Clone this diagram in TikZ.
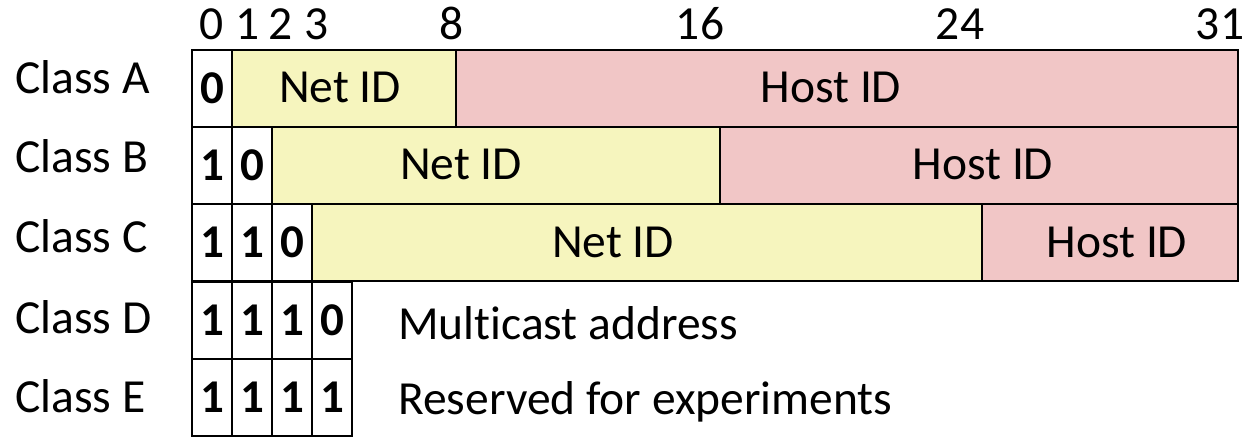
\documentclass[tikz,border=0pt]{standalone}
\usepackage{fontspec}
\setmainfont{Carlito}[Ligatures={NoCommon}]
\definecolor{netc}{RGB}{246,245,190}
\definecolor{hostc}{RGB}{241,198,198}
\begin{document}
\begin{tikzpicture}[x=1pt,y=-1pt,
  every node/.style={font=\fontsize{47.5}{55}\selectfont},
  cell/.style={draw=black, line width=2pt, minimum height=77pt, inner sep=0pt, outer sep=0pt, anchor=north west},
  bitcell/.style={cell, fill=white, minimum width=40pt, font=\fontsize{47}{55}\selectfont\bfseries},
  netbox/.style={cell, fill=netc},
  hostbox/.style={cell, fill=hostc},
  lbl/.style={anchor=base west, inner sep=0pt},
  txt/.style={anchor=base, inner sep=0pt},
  num/.style={anchor=base, inner sep=0pt}]
\useasboundingbox (0,0) rectangle (1247,438);
% bit numbers
\node[num] (n0) at (212,40) {0};
\node[num] (n1) at (248,40) {1};
\node[num] (n2) at (281,40) {2};
\node[num] (n3) at (317,40) {3};
\node[num] (n8) at (452,40) {8};
\node[num] (n16) at (700,40) {16};
\node[num] (n24) at (960,40) {24};
\node[num] (n31) at (1220,40) {31};
% class labels
\node[lbl] (la) at (15,94) {Class A};
\node[lbl] (lb) at (15,173) {Class B};
\node[lbl] (lc) at (15,253) {Class C};
\node[lbl] (ld) at (15,333) {Class D};
\node[lbl] (le) at (15,412) {Class E};
% Class A
\node[netbox, minimum width=224pt] (anet) at (232,50) {};
\node[hostbox, minimum width=782pt] (ahost) at (456,50) {};
\node[bitcell] (a0) at (192,50) {0};
\node[txt] (anett) at (340,103) {Net ID};
\node[txt] (ahostt) at (831,103) {Host ID};
% Class B
\node[netbox, minimum width=448pt] (bnet) at (272,127) {};
\node[hostbox, minimum width=518pt] (bhost) at (720,127) {};
\node[bitcell] (b0) at (192,127) {1};
\node[bitcell] (b1) at (232,127) {0};
\node[txt] (bnett) at (461,180) {Net ID};
\node[txt] (bhostt) at (983,180) {Host ID};
% Class C
\node[netbox, minimum width=670pt] (cnet) at (312,204) {};
\node[hostbox, minimum width=256pt] (chost) at (982,204) {};
\node[bitcell] (c0) at (192,204) {1};
\node[bitcell] (c1) at (232,204) {1};
\node[bitcell] (c2) at (272,204) {0};
\node[txt] (cnett) at (613,258) {Net ID};
\node[txt] (chostt) at (1117,258) {Host ID};
% Class D
\node[bitcell] (d0) at (192,282) {1};
\node[bitcell] (d1) at (232,282) {1};
\node[bitcell] (d2) at (272,282) {1};
\node[bitcell] (d3) at (312,282) {0};
\node[lbl] (dt) at (398,339) {Multicast address};
% Class E
\node[bitcell] (e0) at (192,359) {1};
\node[bitcell] (e1) at (232,359) {1};
\node[bitcell] (e2) at (272,359) {1};
\node[bitcell] (e3) at (312,359) {1};
\node[lbl] (et) at (398,414) {Reserved for experiments};
\end{tikzpicture}
\end{document}
